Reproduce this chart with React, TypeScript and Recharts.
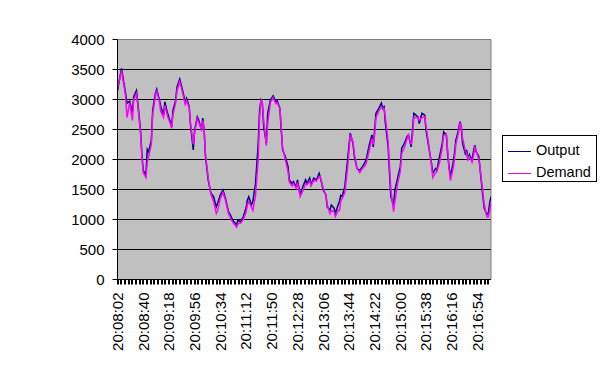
import React from 'react';
import { LineChart, Line, XAxis, YAxis, CartesianGrid, Legend, ReferenceArea } from 'recharts';

const timeLabels = [
  '20:08:02', '20:08:40', '20:09:18', '20:09:56', '20:10:34', '20:11:12', '20:11:50', '20:12:28',
  '20:13:06', '20:13:44', '20:14:22', '20:15:00', '20:15:38', '20:16:16', '20:16:54',
];
const yTicks = [0, 500, 1000, 1500, 2000, 2500, 3000, 3500, 4000];
const seriesNames = ['Output', 'Demand'];
const seriesColors = ['#000080', '#FF00FF'];

// elapsed seconds since 20:08:02
const seconds = [
  0, 6, 12, 14, 18, 22, 24, 28, 30, 34, 36, 38, 42, 44, 46, 50, 52, 56, 58, 62,
  64, 68, 70, 74, 78, 80, 82, 86, 88, 92, 96, 100, 102, 106, 108, 112, 114, 118, 120, 124,
  126, 128, 130, 134, 138, 142, 146, 148, 152, 156, 160, 164, 168, 170, 176, 178, 182, 186, 190, 192,
  194, 198, 200, 204, 208, 210, 212, 214, 216, 220, 222, 226, 230, 234, 236, 240, 242, 244, 248, 252,
  254, 258, 260, 264, 266, 270, 274, 278, 280, 284, 286, 290, 294, 298, 300, 304, 308, 310, 314, 316,
  320, 322, 326, 328, 330, 332, 336, 340, 344, 348, 350, 354, 358, 362, 366, 368, 372, 376, 378, 380,
  382, 386, 390, 392, 394, 396, 400, 402, 404, 408, 410, 414, 418, 420, 424, 428, 430, 434, 436, 438,
  444, 446, 450, 454, 456, 460, 464, 466, 470, 472, 476, 480, 482, 486, 488, 490, 492, 496, 498, 500,
  504, 506, 508, 510, 514, 516, 518, 520, 524, 526, 528, 530, 534, 536, 538, 540, 542, 546, 548, 550,
  552,
];
const output = [
  3150, 3520, 3100, 2940, 2970, 2780, 3050, 3150, 2940, 2490, 2100, 1820, 1740, 2170, 2130, 2320, 2820, 3100, 3170, 2990,
  2880, 2740, 2960, 2770, 2630, 2540, 2820, 2990, 3210, 3340, 3160, 2960, 3020, 2880, 2560, 2160, 2490, 2710, 2660, 2490,
  2690, 2490, 2050, 1660, 1440, 1380, 1210, 1270, 1410, 1490, 1330, 1130, 1050, 990, 910, 990, 960, 1050, 1190, 1320,
  1380, 1240, 1300, 1600, 2270, 2820, 2990, 2940, 2550, 2270, 2770, 2990, 3060, 2960, 2980, 2850, 2490, 2160, 2050, 1880,
  1660, 1600, 1630, 1550, 1660, 1410, 1550, 1660, 1600, 1690, 1580, 1690, 1660, 1770, 1690, 1490, 1410, 1210, 1160, 1240,
  1190, 1100, 1240, 1300, 1400, 1380, 1550, 1990, 2440, 2270, 2050, 1850, 1820, 1880, 1960, 2020, 2240, 2410, 2210, 2490,
  2770, 2850, 2940, 2850, 2880, 2600, 2210, 1770, 1380, 1240, 1490, 1690, 1880, 2190, 2270, 2380, 2410, 2210, 2490, 2770,
  2710, 2600, 2770, 2740, 2490, 2210, 1940, 1770, 1850, 1820, 2050, 2270, 2460, 2410, 2080, 1880, 1710, 1940, 2100, 2320,
  2490, 2630, 2550, 2270, 2100, 2160, 1990, 2080, 1990, 2130, 2240, 2130, 2050, 1820, 1600, 1380, 1190, 1080, 1100, 1270,
  1380,
];
const demand = [
  3200, 3480, 3050, 2700, 2950, 2650, 3000, 3100, 2900, 2450, 2050, 1780, 1700, 1950, 2050, 2250, 2750, 3050, 3150, 2950,
  2800, 2700, 2900, 2720, 2600, 2520, 2750, 2950, 3150, 3300, 3120, 2920, 2980, 2860, 2600, 2250, 2450, 2680, 2620, 2500,
  2650, 2500, 2100, 1700, 1420, 1300, 1100, 1150, 1350, 1450, 1300, 1100, 1000, 960, 870, 930, 940, 1000, 1120, 1250,
  1300, 1200, 1150, 1400, 2000, 2700, 3000, 2950, 2650, 2230, 2600, 2950, 3030, 2930, 2950, 2850, 2550, 2200, 2000, 1800,
  1620, 1560, 1600, 1520, 1620, 1380, 1480, 1600, 1580, 1640, 1560, 1650, 1640, 1720, 1700, 1520, 1400, 1250, 1100, 1150,
  1130, 1050, 1150, 1150, 1300, 1350, 1450, 1850, 2400, 2300, 2100, 1850, 1780, 1850, 1900, 1950, 2150, 2350, 2250, 2400,
  2700, 2800, 2880, 2850, 2850, 2700, 2300, 1900, 1500, 1130, 1300, 1600, 1800, 2100, 2200, 2350, 2400, 2250, 2400, 2700,
  2700, 2650, 2700, 2720, 2550, 2250, 1900, 1700, 1780, 1800, 1950, 2200, 2400, 2420, 2150, 1850, 1650, 1850, 2000, 2250,
  2450, 2600, 2580, 2350, 2150, 2100, 2000, 2050, 1950, 2050, 2200, 2150, 2000, 1850, 1650, 1450, 1250, 1040, 1040, 1150,
  1300,
];

const toSec = (s: string) => {
  const [h, m, sec] = s.split(':').map(Number);
  return h * 3600 + m * 60 + sec;
};
const base = toSec(timeLabels[0]);
const labelSecs = timeLabels.map((l) => toSec(l) - base);
const labelStep = labelSecs[1] - labelSecs[0];
const xMax = seconds[seconds.length - 1];
const minorPerLabel = 7;
const minorTicks: number[] = [];
for (let i = 0; (i * labelStep) / minorPerLabel <= xMax + 0.001; i++) minorTicks.push((i * labelStep) / minorPerLabel);

const data = seconds.map((t, i) => ({ t, output: output[i], demand: demand[i] }));

const FONT = "'Liberation Sans', Arial, sans-serif";
const TICK_SIZE = 5;
const TICK_MARGIN = 8;

function timeTick(props: any) {
  const { x, y, payload, index } = props;
  const v = Number(payload && payload.value);
  const idx = labelSecs.findIndex((s) => Math.abs(s - v) < 0.01);
  const px = Number(x);
  const py = Number(y);
  const axisY = py - TICK_SIZE - TICK_MARGIN;
  const lx = Math.round(px) - 1;
  return (
    <g key={`tt-${index}`}>
      <rect x={lx} y={axisY} width={2} height={TICK_SIZE} fill="#000" />
      {idx >= 0 ? (
        <text
          x={px}
          y={py}
          transform={`rotate(-90, ${px}, ${py})`}
          textAnchor="end"
          dy="0.36em"
          fontSize={15}
          fontFamily={FONT}
          fill="#000"
        >
          {timeLabels[idx]}
        </text>
      ) : null}
    </g>
  );
}

const LegendBox = () => (
  <div
    style={{
      width: 95,
      height: 47,
      boxSizing: 'border-box',
      border: '1px solid #000',
      background: '#fff',
      position: 'relative',
      fontFamily: FONT,
      fontSize: 14.5,
      color: '#000',
    }}
  >
    {seriesNames.map((n, i) => (
      <div key={n} style={{ position: 'absolute', left: 0, top: 5 + i * 22, height: 20, width: '100%' }}>
        <svg width={30} height={20} style={{ position: 'absolute', left: 0, top: 0 }}>
          <line x1={5} x2={28} y1={10.5} y2={10.5} stroke={seriesColors[i]} strokeWidth={1} />
        </svg>
        <span style={{ position: 'absolute', left: 33, top: 1, lineHeight: '17px' }}>{n}</span>
      </div>
    ))}
  </div>
);

export default function App() {
  return (
    <div style={{ position: 'absolute', left: 0, top: 0, width: 600, height: 375, background: '#fff' }}>
      <LineChart
        width={600}
        height={375}
        data={data}
        margin={{ top: 39.5, right: 109, left: 57.5, bottom: 15.5 }}
      >
        <CartesianGrid
          vertical={false}
          horizontalValues={[500, 1000, 1500, 2000, 2500, 3000, 3500]}
          stroke="#000"
          strokeOpacity={1}
          fill="#C0C0C0"
          fillOpacity={1}
        />
        <ReferenceArea
          x1={0}
          x2={xMax}
          y1={0}
          y2={4000}
          fill="none"
          stroke="#808080"
          strokeWidth={1}
          ifOverflow="visible"
        />
        <XAxis
          dataKey="t"
          type="number"
          domain={[0, xMax]}
          ticks={minorTicks}
          interval={0}
          tick={timeTick}
          tickSize={TICK_SIZE}
          tickMargin={TICK_MARGIN}
          tickLine={false}
          axisLine={{ stroke: '#000' }}
          height={80}
          allowDataOverflow
        />
        <YAxis
          type="number"
          domain={[0, 4000]}
          ticks={yTicks}
          interval={0}
          width={60}
          tickSize={TICK_SIZE}
          tickMargin={TICK_MARGIN}
          tickLine={{ stroke: '#000' }}
          axisLine={{ stroke: '#000' }}
          tick={{ fontSize: 15, fontFamily: FONT, fill: '#000' }}
        />
        <Legend
          layout="vertical"
          align="center"
          verticalAlign="middle"
          content={<LegendBox />}
          wrapperStyle={{ position: 'absolute', left: 502, top: 135, width: 95, height: 47 }}
        />
        <Line
          type="linear"
          dataKey="output"
          name={seriesNames[0]}
          stroke={seriesColors[0]}
          strokeWidth={1.5}
          dot={false}
          isAnimationActive={false}
        />
        <Line
          type="linear"
          dataKey="demand"
          name={seriesNames[1]}
          stroke={seriesColors[1]}
          strokeWidth={1.5}
          dot={false}
          isAnimationActive={false}
        />
      </LineChart>
    </div>
  );
}
